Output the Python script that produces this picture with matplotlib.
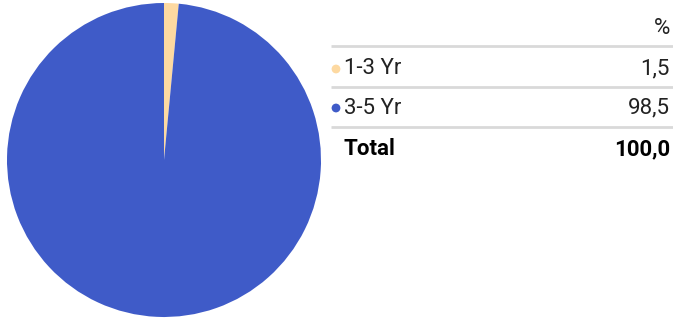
import matplotlib.pyplot as plt
from matplotlib import font_manager

labels = ["1-3 Yr", "3-5 Yr"]
values = [1.5, 98.5]
colors = ["#fdd9a1", "#3f5bc8"]
total_label = "Total"
total_value = "100,0"

names = {f.name for f in font_manager.fontManager.ttflist}
fam = "Liberation Sans Narrow" if "Liberation Sans Narrow" in names else "Roboto"
plt.rcParams["font.family"] = [fam, "DejaVu Sans"]

fig = plt.figure(figsize=(6.73, 3.18), dpi=100)

# pie on the left
ax = fig.add_axes([7 / 673, 1 - 317 / 318, 314 / 673, 314 / 318])
ax.pie(values, colors=colors, startangle=90, counterclock=False,
       wedgeprops={"linewidth": 0})
ax.set_xlim(-1, 1)
ax.set_ylim(-1, 1)
ax.set_aspect("equal")

# table on the right, in pixel coords
tx = fig.add_axes([0, 0, 1, 1])
tx.set_xlim(0, 673)
tx.set_ylim(318, 0)
tx.axis("off")

fs = 16
grey = "#222222"
tx.text(670, 29, "%", ha="right", va="center", fontsize=fs, color=grey)
for y in [46, 87, 127]:
    tx.plot([331, 673], [y, y], color="#d9d9d9", lw=2, solid_capstyle="butt")

rows_y = [69, 108]
for lab, val, c, y in zip(labels, values, colors, rows_y):
    tx.scatter([336], [y], s=40, color=c, edgecolors="none")
    tx.text(344, y, lab, ha="left", va="center", fontsize=fs, color=grey)
    tx.text(670, y, f"{val:.1f}".replace(".", ","), ha="right", va="center",
            fontsize=fs, color=grey)

tx.text(344, 149, total_label, ha="left", va="center", fontsize=fs,
        fontweight="bold", color="black")
tx.text(670, 149, total_value, ha="right", va="center", fontsize=fs,
        fontweight="bold", color="black")

fig.savefig("out.png", dpi=100)
